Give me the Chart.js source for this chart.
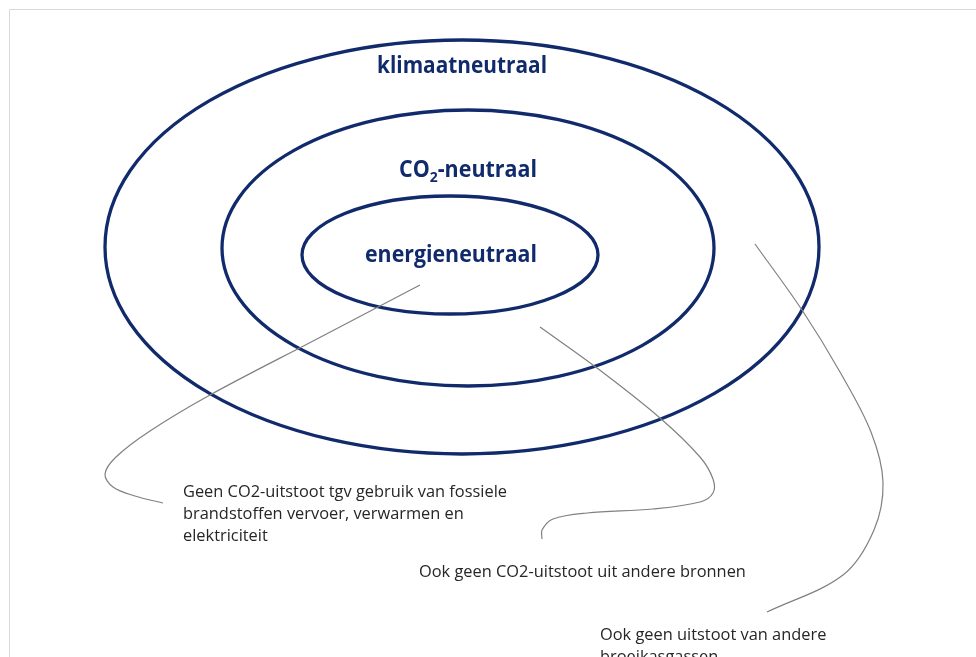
<!DOCTYPE html>
<html>
<head>
<meta charset="utf-8">
<title>klimaatneutraal</title>
<script src="https://cdn.jsdelivr.net/npm/chart.js@4.4.1/dist/chart.umd.min.js"></script>
<style>
    html, body { margin: 0; padding: 0; background: #ffffff; }
    #wrap { position: relative; width: 976px; height: 657px; }
</style>
</head>
<body>
<div id="wrap"><canvas id="diagram"></canvas></div>
<script>
// ringen (buiten -> binnen), in schermeenheden van de as
const RING_NAMES = [
    [['klimaatneutraal', 0]],
    [['CO', 0], ['2', 1], ['-neutraal', 0]],
    [['energieneutraal', 0]]
];
const RING_CX = [462, 468, 450];
const RING_CY = [247, 248, 255];
const RING_RX = [357, 246, 148];
const RING_RY = [207, 138, 59];

// labels van de ringen: linkerkant, rechterkant, basislijn
const RING_LABEL_LEFT = [377, 399, 365];
const RING_LABEL_RIGHT = [547, 537, 537];
const RING_LABEL_BASE = [73, 177, 262];

// toelichtingen
const NOTE_LINES = [
    'Geen CO2-uitstoot tgv gebruik van fossiele',
    'brandstoffen vervoer, verwarmen en',
    'elektriciteit',
    'Ook geen CO2-uitstoot uit andere bronnen',
    'Ook geen uitstoot van andere',
    'broeikasgassen'
];
const NOTE_X = [183, 183, 183, 419, 600, 600];
const NOTE_Y = [497, 519, 541, 577, 640, 662];

// verbindingslijnen (punten)
const LINE_ENERGIE = [
    {x: 420, y: 285}, {x: 315, y: 340}, {x: 210, y: 395}, {x: 150, y: 431},
    {x: 116, y: 457}, {x: 105, y: 474}, {x: 113, y: 487}, {x: 135, y: 496}, {x: 163, y: 503}
];
const LINE_CO2 = [
    {x: 540, y: 327}, {x: 597, y: 368}, {x: 660, y: 418}, {x: 700, y: 457},
    {x: 713, y: 479}, {x: 713, y: 493}, {x: 700, y: 502}, {x: 653, y: 509},
    {x: 587, y: 513}, {x: 553, y: 519}, {x: 542, y: 530}, {x: 542, y: 539}
];
const LINE_KLIMAAT = [
    {x: 755, y: 244}, {x: 802, y: 310}, {x: 840, y: 372}, {x: 871, y: 432},
    {x: 883, y: 482}, {x: 874, y: 530}, {x: 843, y: 575}, {x: 767, y: 612}
];

const NAVY = '#102a6b';
const GREY_LINE = '#808080';
const TEXT_DARK = '#262626';

// ringen tekenen via de schalen van de grafiek
const ringPlugin = {
    id: 'ringen',
    beforeDatasetsDraw(chart) {
        const ctx = chart.ctx;
        const xs = chart.scales.x;
        const ys = chart.scales.y;

        // lichte rand linksboven
        ctx.save();
        ctx.strokeStyle = '#d9d9d9';
        ctx.lineWidth = 1;
        ctx.beginPath();
        ctx.moveTo(9.5, chart.height);
        ctx.lineTo(9.5, 9.5);
        ctx.lineTo(chart.width, 9.5);
        ctx.stroke();
        ctx.restore();

        ctx.save();
        ctx.strokeStyle = NAVY;
        ctx.lineWidth = 3.3;
        for (let i = 0; i < RING_CX.length; i++) {
            const cx = xs.getPixelForValue(RING_CX[i]);
            const cy = ys.getPixelForValue(RING_CY[i]);
            const rx = Math.abs(xs.getPixelForValue(RING_CX[i] + RING_RX[i]) - cx);
            const ry = Math.abs(ys.getPixelForValue(RING_CY[i] + RING_RY[i]) - cy);
            ctx.beginPath();
            ctx.ellipse(cx, cy, rx, ry, 0, 0, Math.PI * 2);
            ctx.stroke();
        }
        ctx.restore();
    },
    afterDatasetsDraw(chart) {
        const ctx = chart.ctx;
        const xs = chart.scales.x;
        const ys = chart.scales.y;

        // labels in de ringen
        ctx.save();
        ctx.fillStyle = NAVY;
        ctx.textBaseline = 'alphabetic';
        ctx.textAlign = 'left';
        for (let i = 0; i < RING_NAMES.length; i++) {
            const parts = RING_NAMES[i];
            const size = 23;
            let total = 0;
            parts.forEach(p => {
                ctx.font = 'bold ' + (p[1] ? size * 0.65 : size) + 'px "Open Sans"';
                total += ctx.measureText(p[0]).width;
            });
            const left = xs.getPixelForValue(RING_LABEL_LEFT[i]);
            const right = xs.getPixelForValue(RING_LABEL_RIGHT[i]);
            const base = ys.getPixelForValue(RING_LABEL_BASE[i]);
            const sx = (right - left) / total;
            ctx.save();
            ctx.translate(left, base);
            ctx.scale(sx, 1);
            let pos = 0;
            parts.forEach(p => {
                ctx.font = 'bold ' + (p[1] ? size * 0.65 : size) + 'px "Open Sans"';
                ctx.fillText(p[0], pos, p[1] ? 5 : 0);
                pos += ctx.measureText(p[0]).width;
            });
            ctx.restore();
        }
        ctx.restore();

        // toelichtingen
        ctx.save();
        ctx.fillStyle = TEXT_DARK;
        ctx.font = '16.5px "Open Sans"';
        ctx.textBaseline = 'alphabetic';
        ctx.textAlign = 'left';
        const sx = 324 / ctx.measureText(NOTE_LINES[0]).width;
        for (let i = 0; i < NOTE_LINES.length; i++) {
            ctx.save();
            ctx.translate(xs.getPixelForValue(NOTE_X[i]), ys.getPixelForValue(NOTE_Y[i]));
            ctx.scale(sx, 1);
            ctx.fillText(NOTE_LINES[i], 0, 0);
            ctx.restore();
        }
        ctx.restore();
    }
};

function lineSet(points) {
    return {
        data: points,
        showLine: true,
        borderColor: GREY_LINE,
        borderWidth: 1.2,
        pointRadius: 0,
        tension: 0.35,
        fill: false
    };
}

const diagram = new Chart(document.getElementById('diagram'), {
    type: 'scatter',
    data: {
        datasets: [lineSet(LINE_ENERGIE), lineSet(LINE_CO2), lineSet(LINE_KLIMAAT)]
    },
    options: {
        responsive: true,
        maintainAspectRatio: false,
        animation: false,
        events: [],
        layout: { padding: 0 },
        plugins: {
            legend: { display: false },
            tooltip: { enabled: false }
        },
        scales: {
            x: { type: 'linear', min: 0, max: 976, display: false },
            y: { type: 'linear', min: 0, max: 657, reverse: true, display: false }
        }
    },
    plugins: [ringPlugin]
});
</script>
</body>
</html>
